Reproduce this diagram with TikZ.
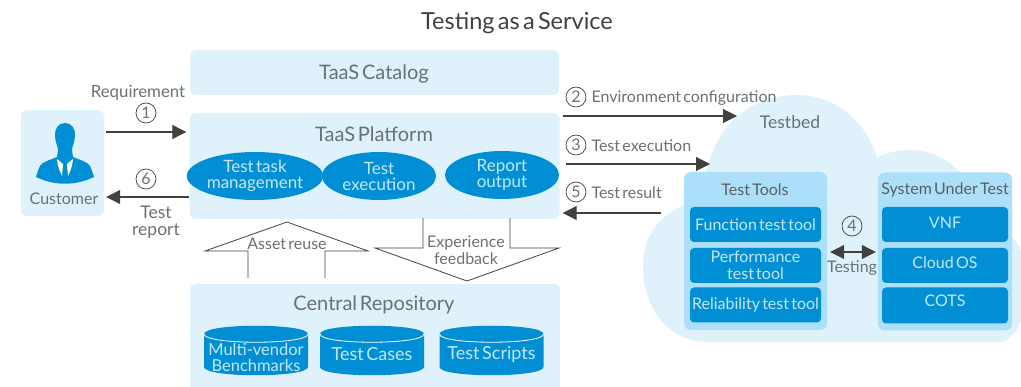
\documentclass[tikz,border=0pt]{standalone}
\usepackage{fontspec}
\setmainfont[WordSpace=0.55]{Lato}
\usepackage{xcolor}
\usetikzlibrary{arrows.meta,shapes.geometric}
\definecolor{paleblue}{HTML}{DFF2FB}
\definecolor{midblue}{HTML}{ABDFFA}
\definecolor{deepblue}{HTML}{008FD5}
\definecolor{softtext}{HTML}{C4E8F8}
\definecolor{greytext}{HTML}{6A7075}
\definecolor{line}{HTML}{414141}
\tikzset{
  panel/.style={fill=paleblue, rounded corners=6pt, inner sep=0pt},
  toolpanel/.style={fill=midblue, rounded corners=7pt, inner sep=0pt, minimum width=143, minimum height=158},
  toolbox/.style={fill=deepblue, rounded corners=4pt, inner sep=0pt, text=softtext, align=center,
    font=\fontsize{16}{17}\selectfont, minimum height=35},
  oval/.style={ellipse, fill=deepblue, inner sep=0pt, minimum width=114, minimum height=48, text=softtext,
    align=center, font=\fontsize{17}{16}\selectfont},
  tanklab/.style={text=softtext, align=center, inner sep=0pt, font=\fontsize{18}{16}\selectfont},
  lab/.style={text=greytext, align=center, font=\fontsize{16}{17}\selectfont},
  labb/.style={text=greytext, align=center, font=\fontsize{20}{20}\selectfont},
  num/.style={circle, draw=line, line width=0.7pt, inner sep=0pt, minimum size=20, text=greytext,
    font=\fontsize{16}{16}\selectfont},
  flow/.style={draw=line, line width=1.1pt, -{Triangle[length=14,width=14]}},
  both/.style={draw=line, line width=1.1pt, {Triangle[length=14,width=14]}-{Triangle[length=14,width=14]}},
  hollow/.style={draw=line, line width=0.8pt, line join=miter},
}
\begin{document}
\begin{tikzpicture}[x=1pt,y=-1pt]
  \clip (0,0) rectangle (1021,387);

  \node[text=line, font=\fontsize{23.5}{24}\selectfont] (title) at (517,23.5) {Testing as a Service};

  \fill[paleblue] (707,342) .. controls (670,342) and (643,310) .. (643,267)
    .. controls (643,235) and (660,213) .. (690,203) -- (708,165)
    .. controls (720,120) and (755,95) .. (797,95)
    .. controls (835,95) and (865,120) .. (877,157)
    .. controls (888,152) and (900,150) .. (910,150)
    .. controls (932,150) and (950,160) .. (965,177) -- (1005,233) -- (1012,237)
    .. controls (1032,250) and (1035,335) .. (1000,342) -- cycle;

  \node[panel, minimum width=369, minimum height=45] (catalog) at (374.5,72.5) {};
  \node[panel, minimum width=370, minimum height=106] (platform) at (374.5,166) {};
  \node[panel, minimum width=83, minimum height=106] (customer) at (62.5,163) {};
  \node[panel, minimum width=370, minimum height=110] (repo) at (375,339) {};

  \node[labb] (cataloglab) at (374,73.5) {TaaS Catalog};
  \node[labb] (platformlab) at (374,134) {TaaS Platform};
  \node[labb] (repolab) at (374,304.5) {Central Repository};
  \node[lab] (customerlab) at (64,199) {Customer};
  \node[labb, font=\fontsize{17.5}{18}\selectfont] (testbedlab) at (790,122) {Testbed};

  \node[oval] (taskmgmt) at (255,176) {Test task\\management};
  \node[oval] (execution) at (379,176) {Test\\execution};
  \node[oval] (report) at (502,175) {Report\\output};

  \foreach \cx in {256,372,491.5} {
    \fill[deepblue] (\cx-52,334) .. controls (\cx-52,323) and (\cx+52,323) .. (\cx+52,334) -- (\cx+52,367)
      .. controls (\cx+52,378) and (\cx-52,378) .. (\cx-52,367) -- cycle;
    \draw[white, line width=0.8pt] (\cx-52,334) .. controls (\cx-52,345) and (\cx+52,345) .. (\cx+52,334);
  }
  \node[tanklab, font=\fontsize{16.5}{16}\selectfont] (benchmarks) at (256,357) {Multi-vendor\\Benchmarks};
  \node[tanklab] (cases) at (372,354.5) {Test Cases};
  \node[tanklab] (scripts) at (491.5,354.5) {Test Scripts};

  \fill[deepblue] (65,123) .. controls (58,123) and (54.5,129) .. (55,136)
    .. controls (55.5,143) and (58,147) .. (58,150) -- (57,157)
    .. controls (50,160) and (42,162) .. (40,166) .. controls (38,170) and (37,174) .. (36,177)
    .. controls (55,186) and (75,186) .. (94,177)
    .. controls (93,174) and (92,170) .. (90,166) .. controls (88,162) and (80,160) .. (73,157)
    -- (72,150) .. controls (72,147) and (74.5,143) .. (75,136)
    .. controls (75.5,129) and (72,123) .. (65,123) -- cycle;
  \fill[white] (57,159) -- (63,164) -- (62,176) .. controls (59,170) and (57.5,165) .. (57,159) -- cycle;
  \fill[white] (73,159) -- (67,164) -- (68,176) .. controls (71,170) and (72.5,165) .. (73,159) -- cycle;

  \node[toolpanel] (tools) at (755.5,251) {};
  \node[toolpanel, minimum width=134] (sut) at (945,251.5) {};
  \node[lab, text=line!85] (toolslab) at (755,190) {Test Tools};
  \node[lab, text=line!85] (sutlab) at (945,190) {System Under Test};

  \node[toolbox, minimum width=131] (functool) at (755.5,224.5) {Function test tool};
  \node[toolbox, minimum width=131] (perftool) at (755.5,265.5) {Performance\\test tool};
  \node[toolbox, minimum width=131] (reltool) at (755.5,305) {Reliability test tool};
  \node[toolbox, minimum width=126] (vnf) at (945,224.5) {\raisebox{4pt}{VNF}};
  \node[toolbox, minimum width=126] (cloudos) at (945,265.5) {\raisebox{5pt}{Cloud OS}};
  \node[toolbox, minimum width=126, minimum height=36] (cots) at (945,305.5) {\raisebox{9pt}{COTS}};

  \node[lab, font=\fontsize{16.8}{17}\selectfont] (reqlab) at (138,93) {Requirement};
  \node[num] (stepone) at (146,113) {1};
  \draw[flow, shorten <=2pt, shorten >=3pt] (customer.east |- 0,132) -- (platform.west |- 0,132);
  \node[num] (stepsix) at (146,179) {6};
  \draw[flow, shorten >=2pt] (platform.west |- 0,197) -- (customer.east |- 0,197);
  \node[lab, font=\fontsize{17.5}{17}\selectfont] (reportlab) at (156,222) {Test\\report};

  \coordinate (cfgend) at (737,116);
  \coordinate (runend) at (710,164);
  \node[num] (steptwo) at (576,97) {2};
  \node[lab, anchor=west] (cfglab) at (588,98) {Environment configuration};
  \draw[flow, shorten <=3pt] (platform.east |- cfgend) -- (cfgend);
  \node[num] (stepthree) at (576,145) {3};
  \node[lab, anchor=west] (runlab) at (588,146) {Test execution};
  \draw[flow, shorten <=6pt] (platform.east |- runend) -- (runend);
  \node[num] (stepfive) at (576,192) {5};
  \node[lab, anchor=west] (resultlab) at (588,193) {Test result};
  \draw[flow, shorten <=23pt, shorten >=3pt] (tools.west |- 0,213) -- (platform.east |- 0,213);

  \node[num] (stepfour) at (852,226) {4};
  \draw[both, shorten <=3pt, shorten >=2pt] (tools.east |- 0,252) -- (sut.west |- 0,252);
  \node[lab] (testinglab) at (852,268) {Testing};

  \draw[hollow] (248,278) -- (248,251) -- (205,251) -- (287,222) -- (368,251) -- (325,251) -- (325,278);
  \node[lab] (reuselab) at (287,244) {Asset reuse};
  \draw[hollow] (423,218) -- (423,248) -- (375,248) -- (467,281) -- (559,248) -- (510,248) -- (510,218);
  \node[lab] (feedbacklab) at (466,250.5) {Experience\\feedback};
\end{tikzpicture}
\end{document}
